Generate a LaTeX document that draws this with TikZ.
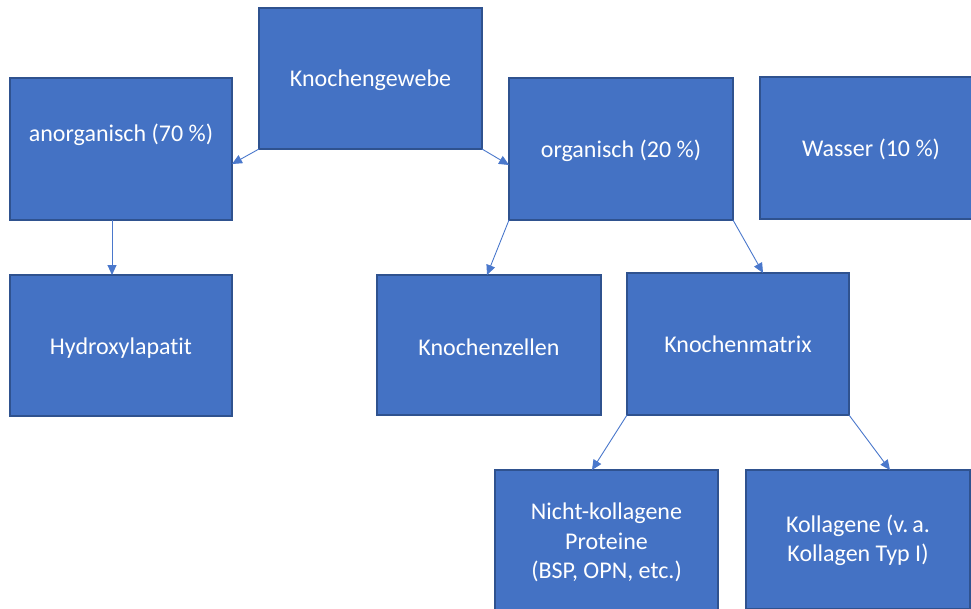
\documentclass[tikz,border=0pt]{standalone}
\usepackage{fontspec}
\setmainfont[Ligatures=NoCommon]{Carlito}
\usetikzlibrary{arrows.meta,calc}
\definecolor{boxfill}{HTML}{4472C4}
\definecolor{boxline}{HTML}{2F528F}
\definecolor{arrowcol}{HTML}{4A78CC}
\begin{document}
\begin{tikzpicture}[x=1pt,y=-1pt,
  box/.style={draw=boxline,line width=1.2pt,fill=boxfill,inner sep=0pt,outer sep=0pt,
    anchor=north west,text=white,align=center,
    font=\fontsize{24}{29.5}\selectfont},
  one/.style={text height=20pt,text depth=3pt},
  lbl/.style={text=white,inner sep=0pt,align=center,font=\fontsize{24}{29.5}\selectfont},
  conn/.style={draw=arrowcol,line width=0.9pt,-{Triangle[length=10pt,width=9pt]}}]
\clip (0,0) rectangle (971,608);
\useasboundingbox (0,0) rectangle (971,608);
\fill[white] (0,0) rectangle (971,608);
\node[box,one,text height=18pt,minimum width=223pt,minimum height=141pt] (kg) at (259,8) {Knochengewebe};
\node[box,minimum width=222pt,minimum height=142pt] (anorg) at (10,78) {};
\node[lbl,one] (anorgLabel) at ($(anorg.center)+(0,-16)$) {anorganisch (70 \%)};
\node[box,one,minimum width=224pt,minimum height=142pt] (org) at (509,78) {organisch (20 \%)};
\node[box,one,minimum width=222pt,minimum height=142pt] (wasser) at (760,77) {Wasser (10 \%)};
\node[box,one,minimum width=222pt,minimum height=141pt] (hyd) at (10,275) {Hydroxylapatit};
\node[box,one,text height=23pt,minimum width=224pt,minimum height=140pt] (kz) at (377,275) {Knochenzellen};
\node[box,one,minimum width=222pt,minimum height=142pt] (km) at (627,273) {Knochenmatrix};
\node[box,minimum width=223pt,minimum height=141pt] (nk) at (495,470) {};
\node[lbl] (nkLabel) at ($(nk.center)+(0,2)$) {Nicht-kollagene\\Proteine\\(BSP, OPN, etc.)};
\node[box,minimum width=224pt,minimum height=139pt] (kol) at (746,470) {};
\node[lbl] (kolLabel) at ($(kol.center)+(0,1)$) {Kollagene (v.\,a.\\Kollagen Typ I)};
\draw[conn] (kg.south west) -- ($(anorg.north east)+(0,86)$);
\draw[conn] (kg.south east) -- ($(org.north west)+(0,87)$);
\draw[conn] ($(anorg.south)+(-9,0)$) -- ($(hyd.north)+(-9,0)$);
\draw[conn] (org.south west) -- ($(kz.north west)+(110,0)$);
\draw[conn] (org.south east) -- ($(km.north west)+(136,0)$);
\draw[conn] (km.south west) -- ($(nk.north west)+(97,0)$);
\draw[conn] (km.south east) -- ($(kol.north west)+(144,0)$);
\end{tikzpicture}
\end{document}
